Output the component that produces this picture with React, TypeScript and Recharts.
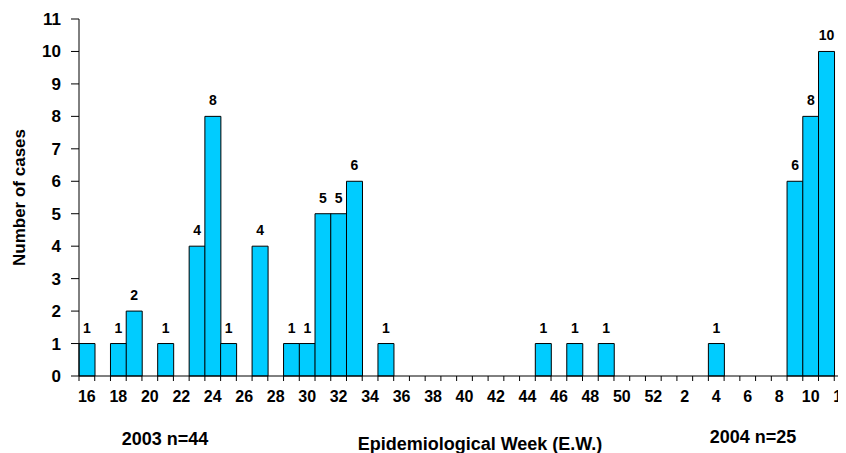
import React from 'react';
import { BarChart, Bar, XAxis, YAxis, LabelList, Label } from 'recharts';

const weeks2003 = [16, 17, 18, 19, 20, 21, 22, 23, 24, 25, 26, 27, 28, 29, 30, 31, 32, 33, 34, 35, 36, 37, 38, 39, 40, 41, 42, 43, 44, 45, 46, 47, 48, 49, 50, 51, 52];
const cases2003 = [1, 0, 1, 2, 0, 1, 0, 4, 8, 1, 0, 4, 0, 1, 1, 5, 5, 6, 0, 1, 0, 0, 0, 0, 0, 0, 0, 0, 0, 1, 0, 1, 0, 1, 0, 0, 0];
const weeks2004 = [1, 2, 3, 4, 5, 6, 7, 8, 9, 10, 11, 12];
const cases2004 = [0, 0, 0, 1, 0, 0, 0, 0, 6, 8, 10, 0];
const yTicks = [0, 1, 2, 3, 4, 5, 6, 7, 8, 9, 10, 11];

const yTitle = 'Number of cases';
const xTitle = 'Epidemiological Week (E.W.)';
const year2003Label = '2003 n=44';
const year2004Label = '2004 n=25';

const allWeeks = [...weeks2003, ...weeks2004];
const allCases = [...cases2003, ...cases2004];
const data = allWeeks.map((w, i) => ({ week: String(w), idx: i, cases: allCases[i] }));
const boundaries = [...data.map((d) => d.idx), data.length];

const FONT = '"Liberation Sans", Arial, Helvetica, sans-serif';

const YTitle = (props: any) => {
  const vb = props.viewBox || { x: 0, y: 0, width: 0, height: 0 };
  const x = vb.x + 6;
  const y = vb.y + vb.height / 2;
  return (
    <text
      x={x}
      y={y}
      transform={`rotate(-90, ${x}, ${y})`}
      textAnchor="middle"
      fontFamily={FONT}
      fontWeight="bold"
      fontSize={17}
      fill="#000"
    >
      {yTitle}
    </text>
  );
};

const XTitles = () => (
  <g>
    <text x={472} y={442} textAnchor="middle" fontFamily={FONT} fontWeight="bold" fontSize={18} fill="#000">
      {xTitle}
    </text>
    <text x={157} y={437} textAnchor="middle" fontFamily={FONT} fontWeight="bold" fontSize={18} fill="#000">
      {year2003Label}
    </text>
    <text x={745} y={435} textAnchor="middle" fontFamily={FONT} fontWeight="bold" fontSize={18} fill="#000">
      {year2004Label}
    </text>
  </g>
);

export default function App() {
  return (
    <div style={{ width: 838, height: 445, overflow: 'hidden', position: 'relative' }}>
      <BarChart
        width={862}
        height={445}
        data={data}
        margin={{ top: 11, right: 20, bottom: 46, left: 11 }}
        barCategoryGap={0}
        barGap={0}
      >
        <XAxis
          xAxisId="grid"
          type="number"
          dataKey="idx"
          domain={[0, data.length]}
          ticks={boundaries}
          interval={0}
          allowDataOverflow
          tickFormatter={() => ''}
          tick={{ fontSize: 1, fill: 'none' }}
          tickSize={5}
          height={1}
          stroke="#000"
          axisLine={{ stroke: '#000', strokeWidth: 1 }}
          tickLine={{ stroke: '#000', strokeWidth: 1 }}
        />
        <XAxis
          xAxisId="main"
          dataKey="week"
          type="category"
          interval={1}
          height={30}
          axisLine={false}
          tickLine={false}
          tickSize={0}
          tickMargin={14}
          padding={{ left: 0, right: 0 }}
          tick={{ fill: '#000', fontFamily: FONT, fontWeight: 'bold', fontSize: 16 }}
        >
          <Label content={<XTitles />} />
        </XAxis>
        <YAxis
          width={60}
          domain={[0, 11]}
          ticks={yTicks}
          interval={0}
          allowDecimals={false}
          tickSize={8}
          tickMargin={10}
          stroke="#000"
          axisLine={{ stroke: '#000', strokeWidth: 1 }}
          tickLine={{ stroke: '#000', strokeWidth: 1 }}
          tick={{ fill: '#000', fontFamily: FONT, fontWeight: 'bold', fontSize: 17 }}
        >
          <Label content={<YTitle />} />
        </YAxis>
        <Bar
          xAxisId="main"
          dataKey="cases"
          fill="#00CCFF"
          stroke="#000"
          strokeWidth={1}
          isAnimationActive={false}
        >
          <LabelList
            dataKey="cases"
            position="top"
            offset={11}
            formatter={(v: any) => (v ? v : '')}
            style={{ fill: '#000', fontFamily: FONT, fontWeight: 'bold', fontSize: 14 }}
          />
        </Bar>
      </BarChart>
    </div>
  );
}
